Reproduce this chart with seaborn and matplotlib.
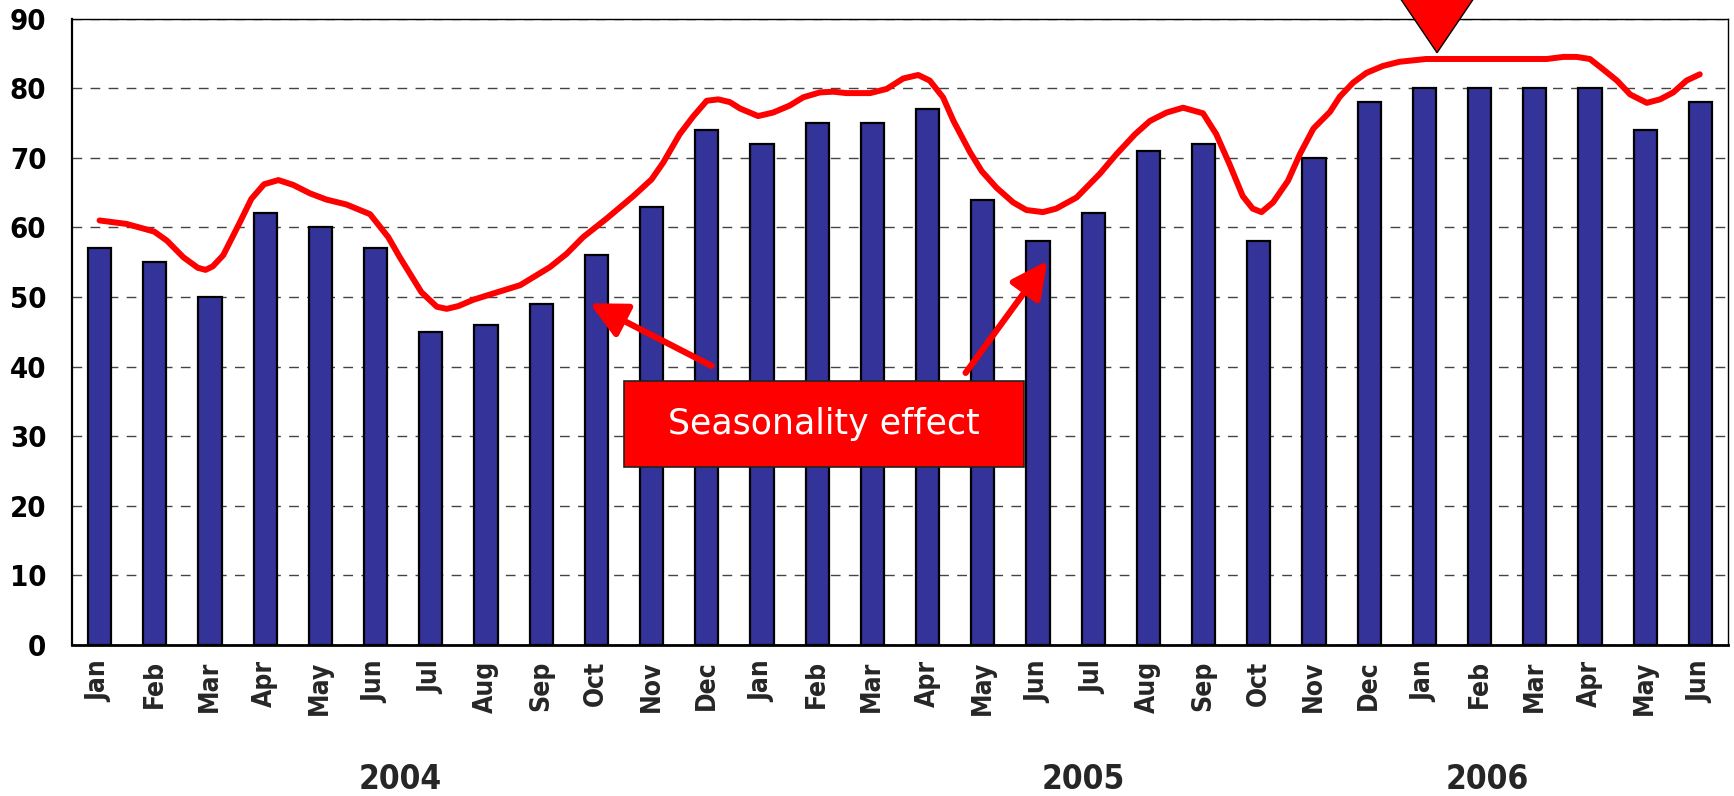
import numpy as np
import matplotlib
matplotlib.use("Agg")
import matplotlib.pyplot as plt
import seaborn as sns
from matplotlib import font_manager
from matplotlib.patches import Rectangle, Polygon
from matplotlib.ticker import FixedLocator


# monthly values (bars)
months = ['Jan', 'Feb', 'Mar', 'Apr', 'May', 'Jun', 'Jul', 'Aug', 'Sep', 'Oct', 'Nov', 'Dec',
          'Jan', 'Feb', 'Mar', 'Apr', 'May', 'Jun', 'Jul', 'Aug', 'Sep', 'Oct', 'Nov', 'Dec',
          'Jan', 'Feb', 'Mar', 'Apr', 'May', 'Jun']
years = ['2004'] * 12 + ['2005'] * 12 + ['2006'] * 6
bar_values = [57, 55, 50, 62, 60, 57, 45, 46, 49, 56, 63, 74,
              72, 75, 75, 77, 64, 58, 62, 71, 72, 58, 70, 78,
              80, 80, 80, 80, 74, 78]

# smoothed trend curve (t = month index)
trend_t = [0.00, 0.49, 0.99, 1.22, 1.52, 1.78, 1.92, 2.05, 2.24, 2.54, 2.75, 2.98,
           3.24, 3.51, 3.81, 4.11, 4.47, 4.90, 5.23, 5.44, 5.83, 6.11, 6.29, 6.50,
           6.77, 7.13, 7.62, 8.16, 8.46, 8.76, 9.19, 9.67, 10.00, 10.21, 10.51, 10.76,
           11.00, 11.21, 11.42, 11.60, 11.93, 12.20, 12.50, 12.75, 13.05, 13.29, 13.53, 13.96,
           14.26, 14.56, 14.83, 15.04, 15.28, 15.47, 15.77, 15.98, 16.25, 16.55, 16.79, 17.09,
           17.33, 17.70, 18.12, 18.42, 18.76, 19.03, 19.33, 19.63, 19.99, 20.23, 20.47, 20.71,
           20.89, 21.05, 21.26, 21.53, 21.75, 21.99, 22.29, 22.47, 22.71, 22.95, 23.25, 23.55,
           24.03, 24.77, 25.50, 26.22, 26.52, 26.76, 27.00, 27.24, 27.49, 27.73, 28.03, 28.27,
           28.51, 28.75, 28.99]
trend_v = [61.0, 60.5, 59.4, 58.1, 55.7, 54.2, 53.9, 54.4, 56.0, 60.7, 64.1, 66.2,
           66.8, 66.1, 64.9, 64.0, 63.3, 61.9, 58.6, 55.7, 50.7, 48.6, 48.3, 48.7,
           49.6, 50.5, 51.7, 54.3, 56.2, 58.6, 61.3, 64.5, 66.9, 69.3, 73.4, 76.0,
           78.2, 78.4, 78.0, 77.1, 76.0, 76.5, 77.5, 78.7, 79.4, 79.5, 79.3, 79.3,
           79.9, 81.4, 81.9, 81.1, 78.7, 75.3, 70.8, 68.1, 65.7, 63.6, 62.5, 62.2,
           62.7, 64.3, 67.7, 70.5, 73.4, 75.3, 76.5, 77.2, 76.4, 73.4, 69.1, 64.5,
           62.7, 62.2, 63.6, 66.7, 70.6, 74.2, 76.6, 78.8, 80.8, 82.2, 83.2, 83.8,
           84.2, 84.2, 84.2, 84.2, 84.5, 84.5, 84.2, 82.7, 81.1, 79.1, 77.9, 78.4,
           79.4, 81.1, 82.0]

peak_month = 24
peak_value = 85.1
note_text = 'Seasonality effect'

sns.set_style('white')

names = {f.name for f in font_manager.fontManager.ttflist}
if 'Liberation Sans Narrow' in names:
    num_font = font_manager.FontProperties(family='Liberation Sans Narrow', weight='bold')
    ytick_size, year_size = 24, 29
else:
    num_font = font_manager.FontProperties(family='DejaVu Sans', weight='bold', stretch='condensed')
    ytick_size, year_size = 21, 24

month_font = font_manager.FontProperties(family='DejaVu Sans', weight='bold',
                                         stretch='condensed', size=19)

fig, ax = plt.subplots(figsize=(17.34, 7.96), dpi=100)
fig.subplots_adjust(left=0.0415, right=0.9965, bottom=0.1897, top=0.9766)

keys = [f'{y}-{m}' for y, m in zip(years, months)]
sns.barplot(x=keys, y=bar_values, order=keys, color='#333399', saturation=1,
            width=0.42, edgecolor='black', linewidth=1.6, errorbar=None, ax=ax, zorder=2)

sns.lineplot(x=trend_t, y=trend_v, color='red', linewidth=4.3, sort=False,
             estimator=None, ax=ax, zorder=4, solid_capstyle='round', solid_joinstyle='round')

ax.set_xlim(-0.5, len(months) - 0.5)
ax.set_ylim(0, 90)
ax.set_xlabel('')
ax.set_ylabel('')

# grid
ax.set_axisbelow(True)
ax.yaxis.grid(True, color='#444444', linewidth=1.0, linestyle=(0, (7, 6)))
ax.xaxis.grid(False)

for side in ['top', 'right']:
    ax.spines[side].set_visible(True)
    ax.spines[side].set_color('black')
    ax.spines[side].set_linewidth(1.0)
ax.spines['left'].set_linewidth(1.6)
ax.spines['left'].set_color('black')
ax.spines['bottom'].set_linewidth(2.0)
ax.spines['bottom'].set_color('black')

# ticks
ax.set_yticks(range(0, 91, 10))
ax.set_yticklabels([str(v) for v in range(0, 91, 10)])
ax.tick_params(axis='y', direction='inout', length=13, width=1.5, pad=12, colors='black')
for lab in ax.get_yticklabels():
    lab.set_fontproperties(num_font)
    lab.set_fontsize(ytick_size)

ax.set_xticks(range(len(months)))
ax.set_xticklabels(months, rotation=90)
for lab in ax.get_xticklabels():
    lab.set_fontproperties(month_font)
ax.tick_params(axis='x', which='major', length=0, pad=11)
ax.xaxis.set_minor_locator(FixedLocator(np.arange(-0.5, len(months), 1.0)))
ax.tick_params(axis='x', which='minor', direction='inout', length=13, width=1.3, colors='black')

# year labels
year_pos = {'2004': 5.44, '2005': 17.83, '2006': 25.14}
for yr, xp in year_pos.items():
    ax.text(xp, -0.214, yr, transform=ax.get_xaxis_transform(), ha='center', va='center',
            fontproperties=num_font, fontsize=year_size)

# highlight triangle at the peak
tri = Polygon([(peak_month + 0.23, peak_value), (peak_month - 0.70, 96.0), (peak_month + 1.16, 96.0)],
              closed=True, facecolor='red', edgecolor='black', linewidth=1.0,
              clip_on=False, zorder=6)
ax.add_patch(tri)

# seasonality note
box = Rectangle((9.5, 25.6), 7.25, 12.3, facecolor='red', edgecolor='#222222',
                linewidth=1.2, zorder=6)
ax.add_patch(box)
ax.text(13.12, 31.75, note_text, ha='center', va='center', color='white',
        fontsize=25, zorder=7)

arrow = dict(arrowstyle='-|>,head_length=1.1,head_width=0.55', color='red', lw=4.5,
             mutation_scale=20, shrinkA=0, shrinkB=0)
ax.annotate('', xy=(8.88, 49.1), xytext=(11.09, 40.1), arrowprops=arrow, zorder=7)
ax.annotate('', xy=(17.17, 55.2), xytext=(15.69, 39.1), arrowprops=arrow, zorder=7)

plt.savefig('out.png', dpi=100)
